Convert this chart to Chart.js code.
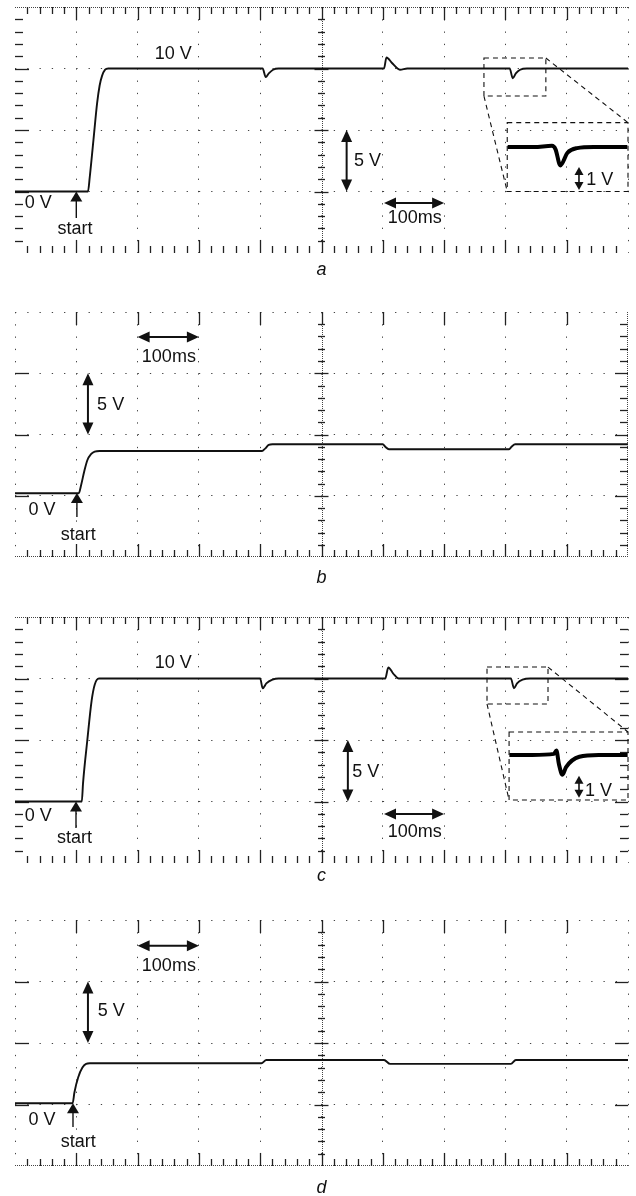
<!DOCTYPE html>
<html>
<head>
<meta charset="utf-8">
<script src="https://cdn.jsdelivr.net/npm/chart.js@4.4.1/dist/chart.umd.min.js"></script>
<style>
  html, body { margin: 0; padding: 0; background: #fff; }
  .panel { position: absolute; left: 0; width: 636px; }
</style>
</head>
<body>
<div class="panel" style="top:0;height:280px"><canvas id="chart-a"></canvas></div>
<div class="panel" style="top:285px;height:300px"><canvas id="chart-b"></canvas></div>
<div class="panel" style="top:590px;height:300px"><canvas id="chart-c"></canvas></div>
<div class="panel" style="top:895px;height:301px"><canvas id="chart-d"></canvas></div>
<script>
// time in ms (100 ms / div), voltage in V (5 V / div)
const timeA = [0, 119, 122, 128, 134, 138, 142, 147, 152, 404, 409, 414, 421, 430, 602, 606, 615, 624, 628, 640, 807, 812, 817, 824, 835, 1000];
const voltA = [0, 0, 1.2, 4.2, 7.2, 8.6, 9.4, 9.9, 10, 10, 9.3, 9.6, 9.9, 10, 10, 10.9, 10.45, 10, 9.9, 10, 10, 9.2, 9.6, 9.9, 10, 10];
const insetTimeA = [768, 790, 805, 808, 812, 818, 826, 840, 868];
const insetVoltA = [10, 10, 10.05, 9.9, 9.2, 9.75, 9.95, 10, 10];

const timeB = [0, 104, 108, 113, 118, 124, 130, 138, 403, 408, 414, 420, 600, 604, 610, 806, 810, 816, 1000];
const voltB = [0.2, 0.2, 0.9, 2.0, 2.9, 3.4, 3.6, 3.65, 3.65, 3.85, 4.15, 4.2, 4.2, 4.0, 3.8, 3.8, 4.0, 4.2, 4.2];

const timeC = [0, 109, 111, 118, 125, 130, 137, 400, 404, 410, 420, 430, 604, 609, 617, 626, 640, 809, 814, 819, 828, 840, 1000];
const voltC = [0, 0, 1.5, 5, 8.2, 9.5, 10, 10, 9.2, 9.6, 9.9, 10, 10, 10.9, 10.4, 10, 10, 10, 9.2, 9.6, 9.9, 10, 10];
const insetTimeC = [771, 790, 808, 810, 812, 815, 818, 829, 845, 869];
const insetVoltC = [10, 10, 10.05, 10.2, 9.6, 9.1, 9.45, 9.92, 10, 10];

const timeD = [0, 94, 97, 103, 110, 116, 122, 402, 410, 602, 612, 809, 817, 1000];
const voltD = [0.1, 0.1, 1.0, 2.2, 3.0, 3.3, 3.35, 3.35, 3.62, 3.62, 3.3, 3.3, 3.62, 3.62];

const timeRange = [0, 1000];
const voltRange = [-5, 15];
const stepMs = 20; // minor graticule step
const stepV = 1;

const FONT = '18px "Liberation Sans", Arial, sans-serif';
const INK = '#111';

function arrowHead(ctx, px, py, dir, len, half) {
  ctx.beginPath();
  ctx.moveTo(px, py);
  if (dir === 'up') { ctx.lineTo(px - half, py + len); ctx.lineTo(px + half, py + len); }
  else if (dir === 'down') { ctx.lineTo(px - half, py - len); ctx.lineTo(px + half, py - len); }
  else if (dir === 'left') { ctx.lineTo(px + len, py - half); ctx.lineTo(px + len, py + half); }
  else { ctx.lineTo(px - len, py - half); ctx.lineTo(px - len, py + half); }
  ctx.closePath();
  ctx.fill();
}

function vDouble(ctx, px, p1, p2, len, half, w) {
  ctx.lineWidth = w;
  ctx.beginPath();
  ctx.moveTo(px, p1 + len - 1);
  ctx.lineTo(px, p2 - len + 1);
  ctx.stroke();
  arrowHead(ctx, px, p1, 'up', len, half);
  arrowHead(ctx, px, p2, 'down', len, half);
}

function hDouble(ctx, p1, p2, py, len, half, w) {
  ctx.lineWidth = w;
  ctx.beginPath();
  ctx.moveTo(p1 + len - 1, py);
  ctx.lineTo(p2 - len + 1, py);
  ctx.stroke();
  arrowHead(ctx, p1, py, 'left', len, half);
  arrowHead(ctx, p2, py, 'right', len, half);
}

function line(ctx, x1, y1, x2, y2) {
  ctx.beginPath();
  ctx.moveTo(x1, y1);
  ctx.lineTo(x2, y2);
  ctx.stroke();
}

function scopeMarks(cfg) {
  return {
    id: 'scopeMarks',
    beforeDatasetsDraw(chart) {
      const { ctx, chartArea: a, scales: { x, y } } = chart;
      ctx.save();
      ctx.strokeStyle = '#444';
      ctx.lineWidth = 1;
      ctx.setLineDash([1, 1]);
      const cx = x.getPixelForValue(500);
      cfg.dense.forEach(side => {
        if (side === 'top') line(ctx, a.left, a.top + 0.5, a.right, a.top + 0.5);
        if (side === 'bottom') line(ctx, a.left, a.bottom - 0.5, a.right, a.bottom - 0.5);
        if (side === 'right') line(ctx, a.right - 0.5, a.top, a.right - 0.5, a.bottom);
        if (side === 'center') line(ctx, Math.round(cx) + 0.5, a.top, Math.round(cx) + 0.5, a.bottom);
      });
      ctx.setLineDash([]);
      ctx.strokeStyle = '#222';
      ctx.lineWidth = 1.3;
      const T = cfg.ticks;
      for (let t = timeRange[0] + stepMs; t < timeRange[1]; t += stepMs) {
        const major = t % 100 === 0;
        const px = Math.round(x.getPixelForValue(t)) + 0.5;
        if (T.top && (major || T.top === 'minor')) line(ctx, px, a.top, px, a.top + (major ? 13 : 7));
        if (T.bottom && (major || T.bottom === 'minor')) line(ctx, px, a.bottom, px, a.bottom - (major ? 13 : 7));
      }
      for (let v = voltRange[0] + stepV; v < voltRange[1]; v += stepV) {
        const major = ((v % 5) + 5) % 5 === 0;
        const py = Math.round(y.getPixelForValue(v)) + 0.5;
        if (T.left && (major || T.left === 'minor')) line(ctx, a.left, py, a.left + (major ? 14 : 8), py);
        if (T.right && (major || T.right === 'minor')) line(ctx, a.right, py, a.right - (major ? 13 : 8), py);
        const h = major ? 7 : 3.5;
        line(ctx, cx - h, py, cx + h, py);
      }
      ctx.restore();
    },
    afterDatasetsDraw(chart) {
      const { ctx, chartArea: a, scales } = chart;
      const { x, y } = scales;
      ctx.save();
      ctx.fillStyle = INK;
      ctx.strokeStyle = INK;
      ctx.lineCap = 'butt';
      cfg.vArrows.forEach(r => vDouble(ctx, x.getPixelForValue(r.t), y.getPixelForValue(r.v1), y.getPixelForValue(r.v2), 12, 5.5, 2));
      cfg.hArrows.forEach(r => hDouble(ctx, x.getPixelForValue(r.t1), x.getPixelForValue(r.t2), y.getPixelForValue(r.v), 12, 5.5, 2));
      const s = cfg.start;
      const sx = x.getPixelForValue(s.t), sTip = y.getPixelForValue(s.v1);
      ctx.lineWidth = 1.4;
      line(ctx, sx, sTip + 9, sx, y.getPixelForValue(s.v2));
      arrowHead(ctx, sx, sTip, 'up', 10, 6);
      if (cfg.inset) {
        const n = cfg.inset;
        ctx.lineWidth = 1.1;
        ctx.setLineDash([5, 4]);
        [n.small, n.big].forEach(b => {
          const x0 = x.getPixelForValue(b.t0), x1 = x.getPixelForValue(b.t1);
          const y0 = y.getPixelForValue(b.v0), y1 = y.getPixelForValue(b.v1);
          ctx.strokeRect(x0, y1, x1 - x0, y0 - y1);
        });
        line(ctx, x.getPixelForValue(n.small.t0), y.getPixelForValue(n.small.v0), x.getPixelForValue(n.big.t0), y.getPixelForValue(n.big.v0));
        line(ctx, x.getPixelForValue(n.small.t1), y.getPixelForValue(n.small.v1), x.getPixelForValue(n.big.t1), y.getPixelForValue(n.big.v1));
        ctx.setLineDash([]);
        const ar = n.arrow;
        vDouble(ctx, scales.x2.getPixelForValue(ar.t), scales.y2.getPixelForValue(ar.v1), scales.y2.getPixelForValue(ar.v2), 8, 4.5, 1.6);
      }
      ctx.font = FONT;
      ctx.textAlign = 'center';
      ctx.textBaseline = 'middle';
      cfg.texts.forEach(tx => ctx.fillText(tx.s, x.getPixelForValue(tx.t), y.getPixelForValue(tx.v)));
      ctx.font = 'italic ' + FONT;
      ctx.textBaseline = 'alphabetic';
      ctx.fillText(cfg.label, (a.left + a.right) / 2, a.bottom + cfg.labelGap);
      ctx.restore();
    }
  };
}

function drawScope(canvasId, times, volts, cfg) {
  const hidden = cfg.hideEdges || [];
  const edgeColor = (sideLo, sideHi, lo, hi) => (c) => {
    const v = c.tick && c.tick.value;
    if ((v === lo && hidden.includes(sideLo)) || (v === hi && hidden.includes(sideHi))) return 'rgba(0,0,0,0)';
    return '#444';
  };
  const datasets = [{
    data: times.map((t, i) => ({ x: t, y: volts[i] })),
    borderColor: '#111',
    borderWidth: 1.9,
    pointRadius: 0,
    cubicInterpolationMode: 'monotone',
  }];
  const scales = {
    x: {
      type: 'linear', min: timeRange[0], max: timeRange[1],
      ticks: { display: false, stepSize: 100 },
      grid: { drawTicks: false, color: edgeColor('left', 'right', timeRange[0], timeRange[1]), lineWidth: 1 },
      border: { display: false, dash: [1.3, 10.96] },
    },
    y: {
      type: 'linear', min: voltRange[0], max: voltRange[1],
      ticks: { display: false, stepSize: 5 },
      grid: { drawTicks: false, color: edgeColor('bottom', 'top', voltRange[0], voltRange[1]), lineWidth: 1 },
      border: { display: false, dash: [1.3, 10.96] },
    },
  };
  if (cfg.inset) {
    datasets.push({
      data: cfg.inset.times.map((t, i) => ({ x: t, y: cfg.inset.volts[i] })),
      xAxisID: 'x2',
      yAxisID: 'y2',
      borderColor: '#000',
      borderWidth: 4,
      pointRadius: 0,
      cubicInterpolationMode: 'monotone',
    });
    scales.x2 = { type: 'linear', display: false, min: cfg.inset.x2[0], max: cfg.inset.x2[1] };
    scales.y2 = { type: 'linear', display: false, min: cfg.inset.y2[0], max: cfg.inset.y2[1] };
  }
  return new Chart(document.getElementById(canvasId), {
    type: 'line',
    data: { datasets },
    options: {
      responsive: true,
      maintainAspectRatio: false,
      animation: false,
      layout: { padding: cfg.padding },
      plugins: { legend: { display: false }, tooltip: { enabled: false } },
      scales,
    },
    plugins: [scopeMarks(cfg)],
  });
}

drawScope('chart-a', timeA, voltA, {
  padding: { left: 15, right: 8, top: 7, bottom: 27 },
  ticks: { top: 'minor', left: 'minor', bottom: 'minor', right: null },
  dense: ['top', 'center'],
  hideEdges: ['left', 'bottom', 'top'],
  texts: [
    { t: 258, v: 11.2, s: '10 V' },
    { t: 38, v: -0.95, s: '0 V' },
    { t: 98, v: -3.05, s: 'start' },
    { t: 575, v: 2.5, s: '5 V' },
    { t: 652, v: -2.15, s: '100ms' },
    { t: 954, v: 0.93, s: '1 V' },
  ],
  vArrows: [{ t: 541, v1: 5, v2: 0 }],
  hArrows: [{ t1: 602, t2: 700, v: -0.93 }],
  start: { t: 100, v1: 0, v2: -2.15 },
  inset: {
    times: insetTimeA, volts: insetVoltA,
    x2: [356, 868.6], y2: [5.39, 16.09],
    small: { t0: 765, t1: 866, v0: 7.76, v1: 10.85 },
    big: { t0: 803, t1: 1000, v0: 0, v1: 5.6 },
    arrow: { t: 827.6, v1: 9.13, v2: 8.13 },
  },
  label: 'a', labelGap: 22,
});

drawScope('chart-b', timeB, voltB, {
  padding: { left: 15, right: 8, top: 27, bottom: 28 },
  ticks: { top: 'major', left: 'major', bottom: 'minor', right: 'minor' },
  dense: ['bottom', 'right', 'center'],
  hideEdges: ['bottom', 'right'],
  texts: [
    { t: 251, v: 11.33, s: '100ms' },
    { t: 156, v: 7.4, s: '5 V' },
    { t: 44, v: -1.16, s: '0 V' },
    { t: 103, v: -3.2, s: 'start' },
  ],
  vArrows: [{ t: 119, v1: 10, v2: 5 }],
  hArrows: [{ t1: 200, t2: 300, v: 12.96 }],
  start: { t: 101, v1: 0.22, v2: -1.73 },
  inset: null,
  label: 'b', labelGap: 26,
});

drawScope('chart-c', timeC, voltC, {
  padding: { left: 15, right: 8, top: 27, bottom: 27 },
  ticks: { top: 'minor', left: 'minor', bottom: 'minor', right: 'minor' },
  dense: ['top', 'center'],
  hideEdges: ['left', 'bottom', 'top'],
  texts: [
    { t: 258, v: 11.26, s: '10 V' },
    { t: 38, v: -1.2, s: '0 V' },
    { t: 97, v: -2.97, s: 'start' },
    { t: 572, v: 2.36, s: '5 V' },
    { t: 652, v: -2.48, s: '100ms' },
    { t: 952, v: 0.89, s: '1 V' },
  ],
  vArrows: [{ t: 543, v1: 5, v2: 0 }],
  hArrows: [{ t1: 602, t2: 700, v: -1.02 }],
  start: { t: 99.5, v1: 0, v2: -2.15 },
  inset: {
    times: insetTimeC, volts: insetVoltC,
    x2: [361.4, 869.3], y2: [5.09, 16.27],
    small: { t0: 770, t1: 869.5, v0: 7.93, v1: 10.93 },
    big: { t0: 806, t1: 1000, v0: 0.12, v1: 5.65 },
    arrow: { t: 828.7, v1: 9.05, v2: 8.05 },
  },
  label: 'c', labelGap: 18,
});

drawScope('chart-d', timeD, voltD, {
  padding: { left: 15, right: 8, top: 25, bottom: 30 },
  ticks: { top: 'major', left: 'major', bottom: 'minor', right: 'major' },
  dense: ['bottom', 'center'],
  hideEdges: ['bottom'],
  texts: [
    { t: 251, v: 11.22, s: '100ms' },
    { t: 157, v: 7.6, s: '5 V' },
    { t: 44, v: -1.26, s: '0 V' },
    { t: 103, v: -3.05, s: 'start' },
  ],
  vArrows: [{ t: 119, v1: 10, v2: 5 }],
  hArrows: [{ t1: 200, t2: 300, v: 12.91 }],
  start: { t: 94.6, v1: 0.1, v2: -1.83 },
  inset: null,
  label: 'd', labelGap: 27,
});
</script>
</body>
</html>
